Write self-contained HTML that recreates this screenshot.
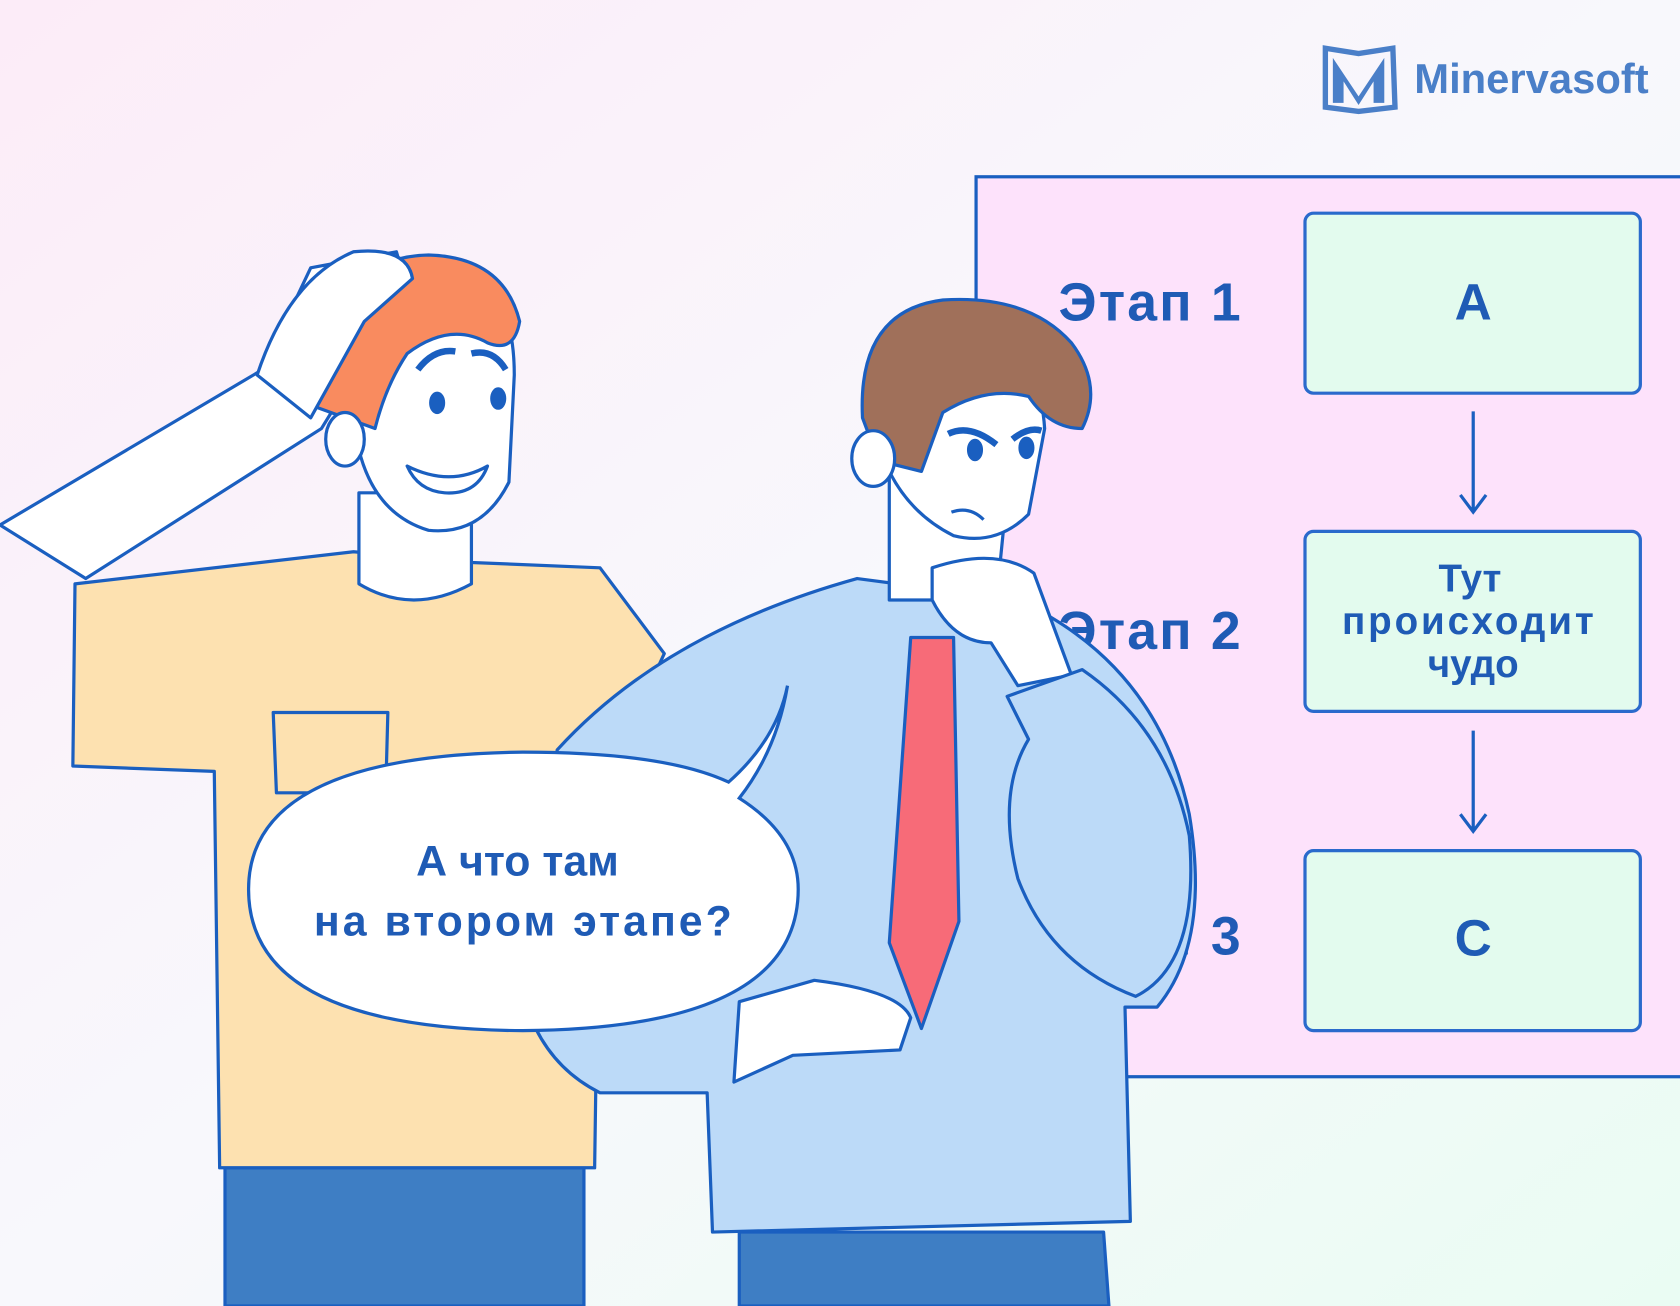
<!DOCTYPE html>
<html><head><meta charset="utf-8"><style>
html,body{margin:0;padding:0;width:1680px;height:1306px;overflow:hidden}
svg{display:block}
text{font-family:"Liberation Sans",sans-serif;font-weight:bold;fill:#1f5bb5}
</style></head><body>
<svg width="1680" height="1306" viewBox="0 0 1568 1219" preserveAspectRatio="none" xmlns="http://www.w3.org/2000/svg">
<defs>
<linearGradient id="bg" x1="0" y1="0" x2="1" y2="1">
<stop offset="0" stop-color="#fcecf8"/><stop offset="0.5" stop-color="#f8f8fc"/><stop offset="1" stop-color="#eafcf3"/>
</linearGradient>
</defs>
<rect width="1568" height="1219" fill="url(#bg)"/>
<!-- logo -->
<g fill="#4a7fc8">
<path d="M1237 45 L1268 50 L1300 45 L1302 100 L1268 104 L1237 100 Z" fill="none" stroke="#4a7fc8" stroke-width="5"/>
<path d="M1244 54 L1268 90 L1292 54 L1292 96 L1282 96 L1282 76 L1268 98 L1254 76 L1254 96 L1244 96 Z"/>
</g>
<text x="1320" y="87" font-size="39" style="fill:#4a7fc8">Minervasoft</text>
<!-- board -->
<rect x="911" y="165" width="680" height="840" fill="#fde2fb" stroke="#1a5fc0" stroke-width="3"/>
<text x="988" y="299" font-size="50" textLength="170">Этап 1</text>
<text x="988" y="606" font-size="50" textLength="170">Этап 2</text>
<text x="988" y="891" font-size="50" textLength="170">Этап 3</text>
<g fill="#e3fbee" stroke="#2a6acc" stroke-width="3">
<rect x="1218" y="199" width="313" height="168" rx="8"/>
<rect x="1218" y="496" width="313" height="168" rx="8"/>
<rect x="1218" y="794" width="313" height="168" rx="8"/>
</g>
<g stroke="#1a5fc0" stroke-width="3" fill="none">
<path d="M1375 384 V478 M1363 462 L1375 478 L1387 462"/>
<path d="M1375 682 V776 M1363 760 L1375 776 L1387 760"/>
</g>
<text x="1375" y="298" font-size="48" text-anchor="middle">A</text>
<text x="1375" y="892" font-size="48" text-anchor="middle">C</text>
<text x="1372" y="552" font-size="36" text-anchor="middle">Тут</text>
<text x="1370" y="592" font-size="36" text-anchor="middle" textLength="235">происходит</text>
<text x="1375" y="632" font-size="36" text-anchor="middle">чудо</text>

<g stroke="#1a5fc0" stroke-width="3" stroke-linejoin="round">
<!-- left man -->
<path d="M0 490 L245 345 L290 250 L370 235 L380 270 L300 400 L80 540 Z" fill="#fff"/>
<path d="M210 1090 L545 1090 L545 1219 L210 1219 Z" fill="#3e7ec4"/>
<path d="M70 545 L330 515 L440 525 L560 530 L620 610 L560 740 L555 1090 L205 1090 L200 720 L68 715 Z" fill="#fde1b0"/>
<path d="M255 665 L362 665 L360 740 L258 740 Z" fill="none"/>
<path d="M335 460 L335 545 Q385 575 440 545 L440 460 Z" fill="#fff"/>
<path d="M345 330 Q350 250 420 250 Q480 260 480 350 L475 450 Q450 500 400 495 Q350 480 335 420 Z" fill="#fff"/>
<path d="M295 380 Q300 240 400 238 Q470 240 485 300 Q480 330 455 320 Q420 300 380 330 Q360 360 350 400 Z" fill="#f98b5f"/>
<ellipse cx="322" cy="410" rx="18" ry="25" fill="#fff"/>
<path d="M380 435 Q420 455 455 435 Q445 462 415 460 Q390 458 380 435 Z" fill="#fff"/>
<path d="M240 350 Q270 260 330 235 Q380 230 385 260 L340 300 L290 390 Z" fill="#fff"/>
<path d="M390 345 Q405 325 425 328 M440 330 Q460 325 472 345" fill="none" stroke-width="6"/>
<ellipse cx="408" cy="376" rx="6" ry="9" fill="#1a5fc0"/>
<ellipse cx="465" cy="372" rx="6" ry="9" fill="#1a5fc0"/>
<!-- right man -->
<path d="M690 1150 L1030 1150 L1035 1219 L690 1219 Z" fill="#3e7ec4"/>
<path d="M520 700 Q620 590 800 540 L950 560 Q1080 620 1110 760 Q1130 880 1080 940 L1050 940 L1055 1140 L665 1150 L660 1020 L560 1020 Q520 1000 500 960 Z" fill="#bcdaf8"/>
<path d="M830 440 L830 560 L930 560 L940 460 Z" fill="#fff"/>
<path d="M830 420 Q840 320 900 315 Q970 320 975 400 L960 480 Q930 510 890 500 Q850 480 830 440 Z" fill="#fff"/>
<path d="M805 390 Q800 290 880 280 Q960 275 1000 320 Q1030 360 1010 400 Q980 400 960 370 Q920 360 880 385 L860 440 L820 430 Z" fill="#a0705a"/>
<ellipse cx="815" cy="428" rx="20" ry="26" fill="#fff"/>
<path d="M885 405 Q905 395 930 415 M945 410 Q960 398 972 402" fill="none" stroke-width="6"/>
<ellipse cx="910" cy="420" rx="6" ry="9" fill="#1a5fc0"/>
<ellipse cx="958" cy="418" rx="6" ry="9" fill="#1a5fc0"/>
<path d="M888 478 Q905 472 918 485" fill="none"/>
<path d="M850 595 L890 595 L895 860 L860 960 L830 880 Z" fill="#f76b78"/>
<path d="M870 530 Q930 510 965 535 L1000 630 L950 640 L925 600 Q890 600 870 560 Z" fill="#fff"/>
<path d="M940 650 L1010 625 Q1090 680 1110 780 Q1120 900 1060 930 Q980 900 950 820 Q930 740 960 690 Z" fill="#bcdaf8"/>
<path d="M690 935 L760 915 Q840 925 850 950 L840 980 L740 985 L685 1010 Z" fill="#fff"/>
</g>
<!-- speech bubble -->
<path d="M232 830 Q232 705 488 702 Q620 702 680 730 Q725 690 735 640 Q725 700 690 745 Q745 780 745 830 Q745 960 488 962 Q232 960 232 830 Z" fill="#fff" stroke="#1a5fc0" stroke-width="3"/>
<text x="483" y="817" font-size="40" text-anchor="middle">А что там</text>
<text x="488" y="873" font-size="40" text-anchor="middle" textLength="390">на втором этапе?</text>
</svg>
</body></html>
